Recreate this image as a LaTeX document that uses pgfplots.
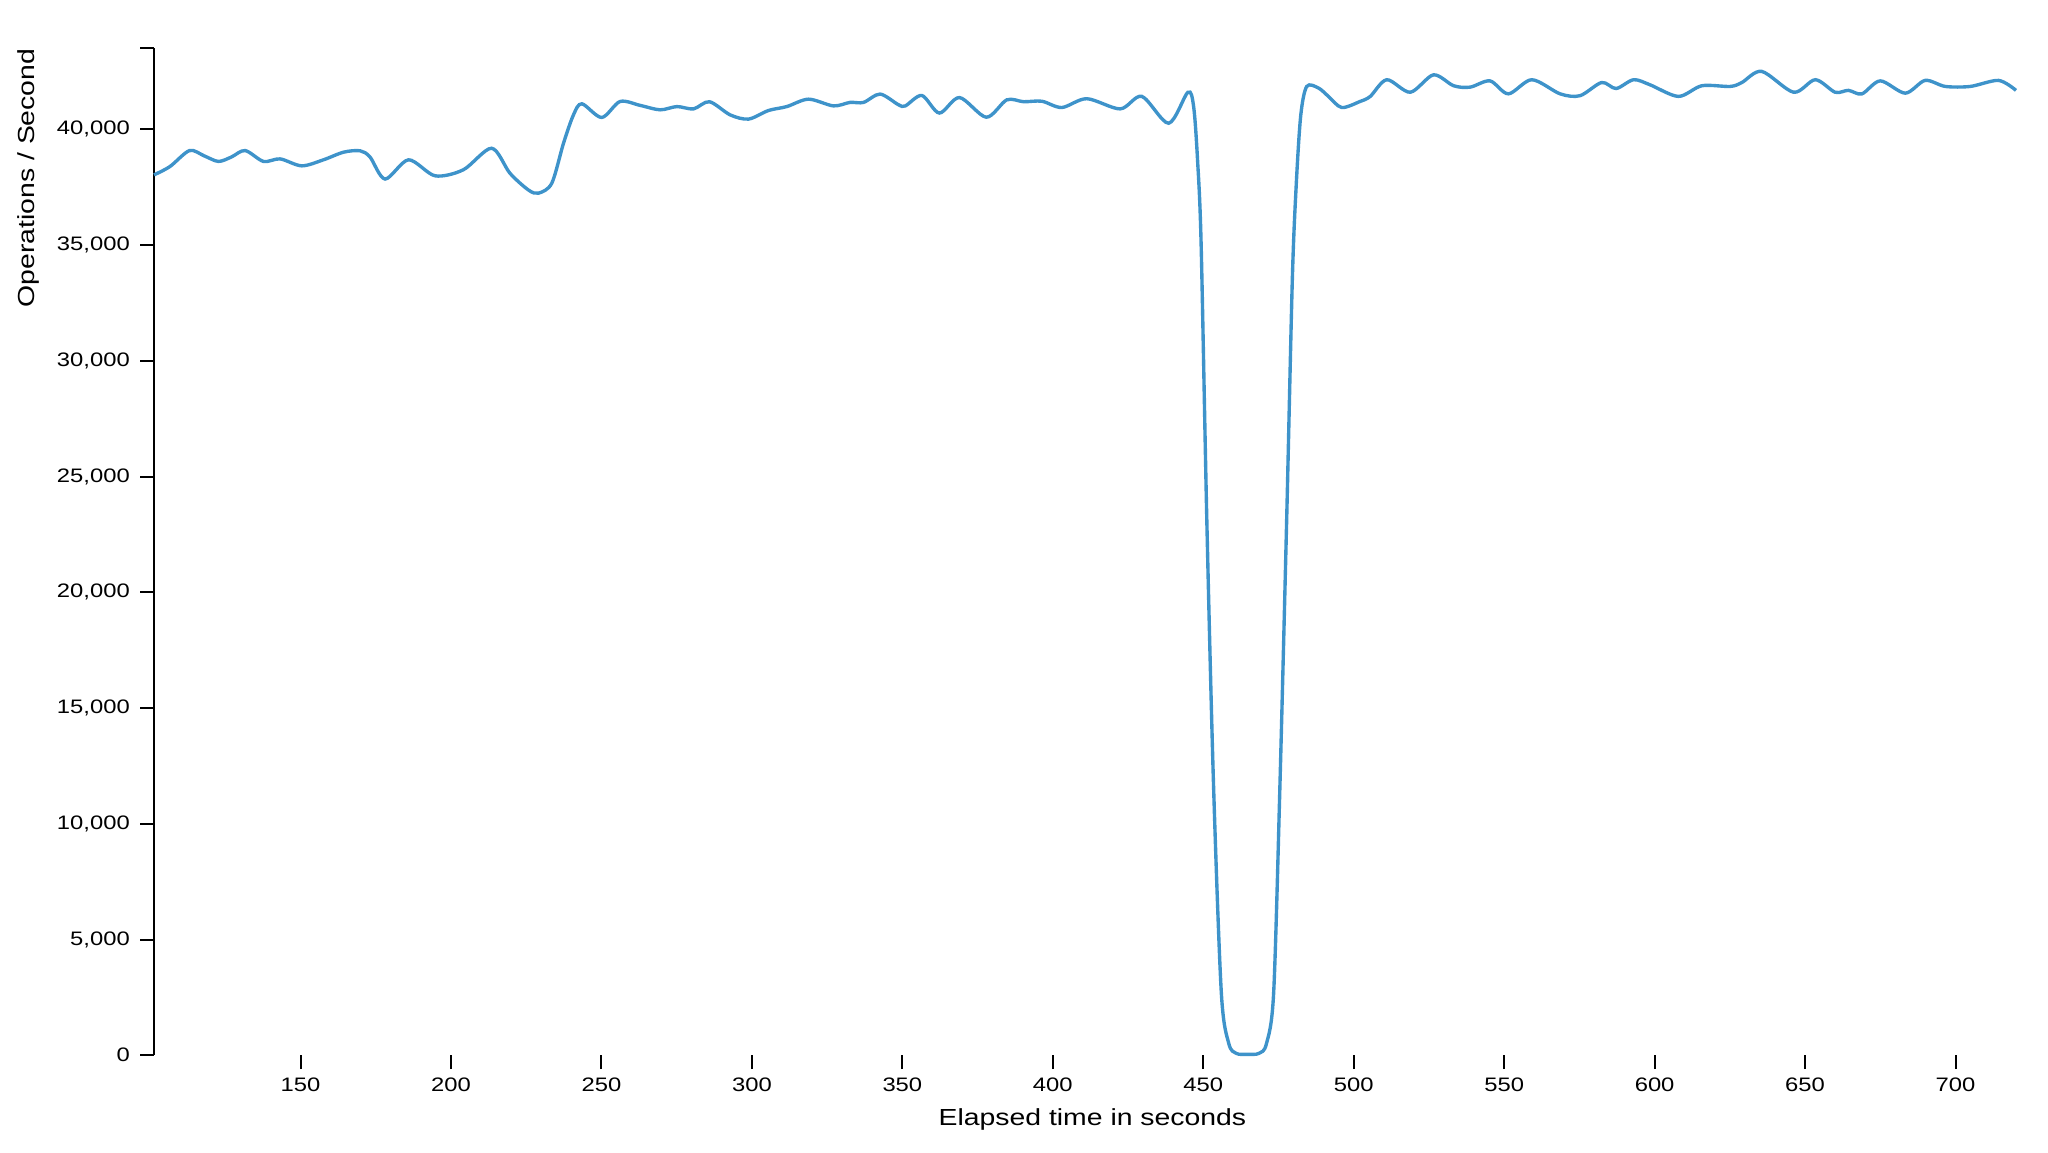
\documentclass[border=0pt]{standalone}
\usepackage{fontspec}
\setmainfont{Liberation Sans}[FakeStretch=1.22]
\usepackage{pgfplots}
\pgfplotsset{compat=1.18}
\definecolor{opsline}{RGB}{62,147,202}

\pgfplotstableread{
t v
101.3 38030
106.6 38390
113.1 39080
118.0 38850
122.7 38610
127.0 38800
131.6 39080
137.7 38610
143.2 38720
150.4 38420
157.6 38680
164.3 39010
169.8 39070
173.1 38800
178.1 37850
185.9 38680
194.7 37990
204.1 38250
213.5 39180
219.6 38100
225.7 37380
229.1 37240
233.5 37670
237.4 39400
240.7 40620
243.5 41100
250.1 40510
256.2 41200
262.9 41030
269.5 40840
275.1 40980
280.6 40880
285.9 41190
292.8 40620
298.9 40440
305.5 40810
311.6 40980
318.8 41300
327.1 41010
332.6 41160
337.1 41160
342.6 41520
348.7 41060
351.0 41010
356.5 41460
362.3 40700
369.0 41370
377.9 40520
384.7 41270
390.3 41190
396.4 41210
403.0 40940
411.3 41320
422.4 40880
429.6 41420
438.5 40260
444.9 41600
446.8 40980
448.1 38680
449.3 35000
451.2 23020
453.4 11740
456.0 2710
458.5 500
461.0 80
464.5 40
468.5 80
471.0 500
473.4 2710
475.5 11740
477.7 23020
479.6 33500
480.9 37600
482.4 40600
484.4 41850
488.3 41780
491.6 41420
496.0 40940
502.1 41200
505.5 41420
511.0 42140
518.8 41600
526.5 42350
533.2 41880
538.7 41820
545.3 42090
551.4 41530
559.2 42140
568.6 41530
575.2 41450
582.4 42020
587.2 41760
593.0 42140
598.5 41920
607.9 41420
615.7 41880
625.1 41850
629.0 42020
635.6 42500
646.2 41600
653.4 42140
660.0 41600
664.4 41680
668.9 41530
675.0 42090
683.3 41560
689.9 42110
696.6 41850
704.9 41850
714.3 42110
720.1 41680
}\opsdata

\begin{document}
\begin{tikzpicture}
\useasboundingbox (-61.6pt,-38.7pt) rectangle (757.6pt,422.1pt);
\begin{axis}[
    at={(0,0)}, anchor=south west,
    scale only axis,
    width=744.8pt, height=402.8pt,
    xmin=101.3, xmax=720.1,
    ymin=0, ymax=43500,
    axis lines*=left,
    axis line style={-, line width=0.8pt},
    x axis line style={draw=none},
    tick style={black, line width=0.8pt},
    tick align=outside,
    major tick length=5.5pt,
    xtick={150,200,...,700},
    ytick={0,5000,...,40000},
    extra y ticks={43500},
    extra y tick labels={},
    scaled y ticks=false,
    /pgf/number format/.cd, 1000 sep={,}, assume math mode=true,
    /pgfplots/.cd,
    ticklabel style={font=\fontsize{7.8}{9}\selectfont, text=black},
    yticklabel style={inner xsep=4pt},
    xlabel={Elapsed time in seconds},
    ylabel={Operations / Second},
    label style={font=\fontsize{9.3}{11}\selectfont, text=black},
    xlabel style={at={(axis description cs:0.504,-0.0693)}, anchor=base},
    ylabel style={at={(axis description cs:-0.0673,1)}, anchor=east, inner sep=0pt},
    clip=false,
]
\addplot[opsline, line width=1.35pt, smooth] table[x=t, y=v] {\opsdata};
\end{axis}
\end{tikzpicture}
\end{document}
